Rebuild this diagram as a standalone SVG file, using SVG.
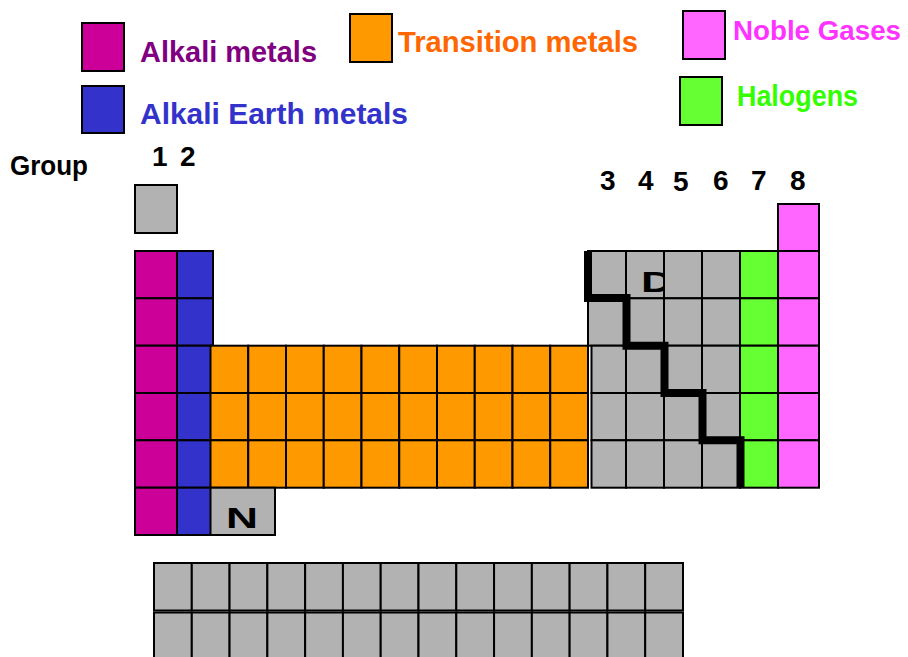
<svg xmlns="http://www.w3.org/2000/svg" width="908" height="657" viewBox="0 0 908 657">
<style>
  .c{stroke:#000;stroke-width:2}
  .g{fill:#b2b2b2}
  .ak{fill:#cc0099}
  .ae{fill:#3333cc}
  .tm{fill:#ff9900}
  .ha{fill:#66ff33}
  .ng{fill:#ff66ff}
  .t{font-family:"Liberation Sans",Arial,sans-serif;font-weight:bold;font-size:30px}
  .n{font-family:"Liberation Sans",Arial,sans-serif;font-weight:bold;font-size:28px;fill:#000}
</style>
<rect width="908" height="657" fill="#fff"/>

<g id="legend-alkali">
  <rect class="c ak" x="82" y="23" width="42" height="48"/>
  <text class="t" x="140" y="62" fill="#800080" textLength="177" lengthAdjust="spacingAndGlyphs">Alkali metals</text>
</g>
<g id="legend-alkali-earth">
  <rect class="c ae" x="82" y="86" width="42" height="47"/>
  <text class="t" x="140" y="124" fill="#3333cc" textLength="268" lengthAdjust="spacingAndGlyphs">Alkali Earth metals</text>
</g>
<g id="legend-transition">
  <rect class="c tm" x="350" y="14" width="42" height="48"/>
  <text class="t" x="398" y="52" fill="#ff6600" textLength="240" lengthAdjust="spacingAndGlyphs">Transition metals</text>
</g>
<g id="legend-noble">
  <rect class="c ng" x="683" y="11" width="42" height="48"/>
  <text class="t" x="733" y="40" fill="#ff33ff" style="font-size:28px" textLength="168" lengthAdjust="spacingAndGlyphs">Noble Gases</text>
</g>
<g id="legend-halogens">
  <rect class="c ha" x="680" y="77" width="42" height="48"/>
  <text class="t" x="737" y="106" fill="#33ff00" textLength="121" lengthAdjust="spacingAndGlyphs">Halogens</text>
</g>

<g id="group-labels">
  <text class="n" x="10" y="175" textLength="78" lengthAdjust="spacingAndGlyphs">Group</text>
  <text class="n" x="152" y="166">1</text>
  <text class="n" x="180" y="166">2</text>
  <text class="n" x="600" y="190">3</text>
  <text class="n" x="638" y="190">4</text>
  <text class="n" x="673" y="191">5</text>
  <text class="n" x="713" y="190">6</text>
  <text class="n" x="751" y="190">7</text>
  <text class="n" x="790" y="190">8</text>
</g>

<g id="hydrogen">
  <rect class="c g" x="135" y="185" width="42" height="48"/>
</g>

<g id="alkali-column">
  <rect class="c ak" x="135" y="251" width="42" height="47.3"/>
  <rect class="c ak" x="135" y="298.3" width="42" height="47.4"/>
  <rect class="c ak" x="135" y="345.7" width="42" height="47.3"/>
  <rect class="c ak" x="135" y="393" width="42" height="47.3"/>
  <rect class="c ak" x="135" y="440.3" width="42" height="47.4"/>
  <rect class="c ak" x="135" y="487.7" width="42" height="47.3"/>
</g>
<g id="alkali-earth-column">
  <rect class="c ae" x="177" y="251" width="36" height="47.3"/>
  <rect class="c ae" x="177" y="298.3" width="36" height="47.4"/>
  <rect class="c ae" x="177" y="345.7" width="36" height="47.3"/>
  <rect class="c ae" x="177" y="393" width="36" height="47.3"/>
  <rect class="c ae" x="177" y="440.3" width="36" height="47.4"/>
  <rect class="c ae" x="177" y="487.7" width="36" height="47.3"/>
</g>

<g id="transition-block">
  <rect class="c tm" x="210.5" y="345.7" width="37.75" height="47.3"/>
  <rect class="c tm" x="248.25" y="345.7" width="37.75" height="47.3"/>
  <rect class="c tm" x="286" y="345.7" width="37.75" height="47.3"/>
  <rect class="c tm" x="323.75" y="345.7" width="37.75" height="47.3"/>
  <rect class="c tm" x="361.5" y="345.7" width="37.75" height="47.3"/>
  <rect class="c tm" x="399.25" y="345.7" width="37.75" height="47.3"/>
  <rect class="c tm" x="437" y="345.7" width="37.75" height="47.3"/>
  <rect class="c tm" x="474.75" y="345.7" width="37.75" height="47.3"/>
  <rect class="c tm" x="512.5" y="345.7" width="37.75" height="47.3"/>
  <rect class="c tm" x="550.25" y="345.7" width="37.75" height="47.3"/>
  <rect class="c tm" x="210.5" y="393" width="37.75" height="47.3"/>
  <rect class="c tm" x="248.25" y="393" width="37.75" height="47.3"/>
  <rect class="c tm" x="286" y="393" width="37.75" height="47.3"/>
  <rect class="c tm" x="323.75" y="393" width="37.75" height="47.3"/>
  <rect class="c tm" x="361.5" y="393" width="37.75" height="47.3"/>
  <rect class="c tm" x="399.25" y="393" width="37.75" height="47.3"/>
  <rect class="c tm" x="437" y="393" width="37.75" height="47.3"/>
  <rect class="c tm" x="474.75" y="393" width="37.75" height="47.3"/>
  <rect class="c tm" x="512.5" y="393" width="37.75" height="47.3"/>
  <rect class="c tm" x="550.25" y="393" width="37.75" height="47.3"/>
  <rect class="c tm" x="210.5" y="440.3" width="37.75" height="47.4"/>
  <rect class="c tm" x="248.25" y="440.3" width="37.75" height="47.4"/>
  <rect class="c tm" x="286" y="440.3" width="37.75" height="47.4"/>
  <rect class="c tm" x="323.75" y="440.3" width="37.75" height="47.4"/>
  <rect class="c tm" x="361.5" y="440.3" width="37.75" height="47.4"/>
  <rect class="c tm" x="399.25" y="440.3" width="37.75" height="47.4"/>
  <rect class="c tm" x="437" y="440.3" width="37.75" height="47.4"/>
  <rect class="c tm" x="474.75" y="440.3" width="37.75" height="47.4"/>
  <rect class="c tm" x="512.5" y="440.3" width="37.75" height="47.4"/>
  <rect class="c tm" x="550.25" y="440.3" width="37.75" height="47.4"/>
</g>

<g id="n-cell">
  <rect class="c g" x="210.5" y="487.7" width="64.5" height="47.3"/>
  <text class="t" x="226" y="528" fill="#000" textLength="32" lengthAdjust="spacingAndGlyphs">N</text>
</g>

<g id="right-block">
  <rect class="c ng" x="778" y="204" width="41" height="47"/>
  <!-- row 1 -->
  <rect class="c g" x="588" y="251" width="38" height="47.3"/>
  <rect class="c g" x="626" y="251" width="38" height="47.3"/>
  <text class="t" x="641" y="292" fill="#000" textLength="32" lengthAdjust="spacingAndGlyphs">D</text>
  <rect class="c g" x="664" y="251" width="38" height="47.3"/>
  <rect class="c g" x="702" y="251" width="38" height="47.3"/>
  <rect class="c ha" x="740" y="251" width="38" height="47.3"/>
  <rect class="c ng" x="778" y="251" width="41" height="47.3"/>
  <!-- row 2 -->
  <rect class="c g" x="588" y="298.3" width="38" height="47.4"/>
  <rect class="c g" x="626" y="298.3" width="38" height="47.4"/>
  <rect class="c g" x="664" y="298.3" width="38" height="47.4"/>
  <rect class="c g" x="702" y="298.3" width="38" height="47.4"/>
  <rect class="c ha" x="740" y="298.3" width="38" height="47.4"/>
  <rect class="c ng" x="778" y="298.3" width="41" height="47.4"/>
  <!-- rows 3-5 -->
  <rect class="c g" x="591.5" y="345.7" width="34.5" height="47.3"/>
  <rect class="c g" x="626" y="345.7" width="38" height="47.3"/>
  <rect class="c g" x="664" y="345.7" width="38" height="47.3"/>
  <rect class="c g" x="702" y="345.7" width="38" height="47.3"/>
  <rect class="c ha" x="740" y="345.7" width="38" height="47.3"/>
  <rect class="c ng" x="778" y="345.7" width="41" height="47.3"/>
  <rect class="c g" x="591.5" y="393" width="34.5" height="47.3"/>
  <rect class="c g" x="626" y="393" width="38" height="47.3"/>
  <rect class="c g" x="664" y="393" width="38" height="47.3"/>
  <rect class="c g" x="702" y="393" width="38" height="47.3"/>
  <rect class="c ha" x="740" y="393" width="38" height="47.3"/>
  <rect class="c ng" x="778" y="393" width="41" height="47.3"/>
  <rect class="c g" x="591.5" y="440.3" width="34.5" height="47.4"/>
  <rect class="c g" x="626" y="440.3" width="38" height="47.4"/>
  <rect class="c g" x="664" y="440.3" width="38" height="47.4"/>
  <rect class="c g" x="702" y="440.3" width="38" height="47.4"/>
  <rect class="c ha" x="740" y="440.3" width="38" height="47.4"/>
  <rect class="c ng" x="778" y="440.3" width="41" height="47.4"/>
</g>

<g id="connectors">
  <path d="M588,251 V298 H626.5 V345.7 H664.5 V393 H702.5 V440.3 H740.5 V488" fill="none" stroke="#000" stroke-width="8" stroke-linejoin="miter"/>
</g>

<g id="lower-rows">
  <rect class="c g" x="154" y="563" width="37.79" height="47.5"/>
  <rect class="c g" x="191.79" y="563" width="37.79" height="47.5"/>
  <rect class="c g" x="229.57" y="563" width="37.79" height="47.5"/>
  <rect class="c g" x="267.36" y="563" width="37.79" height="47.5"/>
  <rect class="c g" x="305.14" y="563" width="37.79" height="47.5"/>
  <rect class="c g" x="342.93" y="563" width="37.79" height="47.5"/>
  <rect class="c g" x="380.71" y="563" width="37.79" height="47.5"/>
  <rect class="c g" x="418.5" y="563" width="37.79" height="47.5"/>
  <rect class="c g" x="456.29" y="563" width="37.79" height="47.5"/>
  <rect class="c g" x="494.07" y="563" width="37.79" height="47.5"/>
  <rect class="c g" x="531.86" y="563" width="37.79" height="47.5"/>
  <rect class="c g" x="569.64" y="563" width="37.79" height="47.5"/>
  <rect class="c g" x="607.43" y="563" width="37.79" height="47.5"/>
  <rect class="c g" x="645.21" y="563" width="37.79" height="47.5"/>
  <rect class="c g" x="154" y="612.5" width="37.79" height="50"/>
  <rect class="c g" x="191.79" y="612.5" width="37.79" height="50"/>
  <rect class="c g" x="229.57" y="612.5" width="37.79" height="50"/>
  <rect class="c g" x="267.36" y="612.5" width="37.79" height="50"/>
  <rect class="c g" x="305.14" y="612.5" width="37.79" height="50"/>
  <rect class="c g" x="342.93" y="612.5" width="37.79" height="50"/>
  <rect class="c g" x="380.71" y="612.5" width="37.79" height="50"/>
  <rect class="c g" x="418.5" y="612.5" width="37.79" height="50"/>
  <rect class="c g" x="456.29" y="612.5" width="37.79" height="50"/>
  <rect class="c g" x="494.07" y="612.5" width="37.79" height="50"/>
  <rect class="c g" x="531.86" y="612.5" width="37.79" height="50"/>
  <rect class="c g" x="569.64" y="612.5" width="37.79" height="50"/>
  <rect class="c g" x="607.43" y="612.5" width="37.79" height="50"/>
  <rect class="c g" x="645.21" y="612.5" width="37.79" height="50"/>
</g>
</svg>
